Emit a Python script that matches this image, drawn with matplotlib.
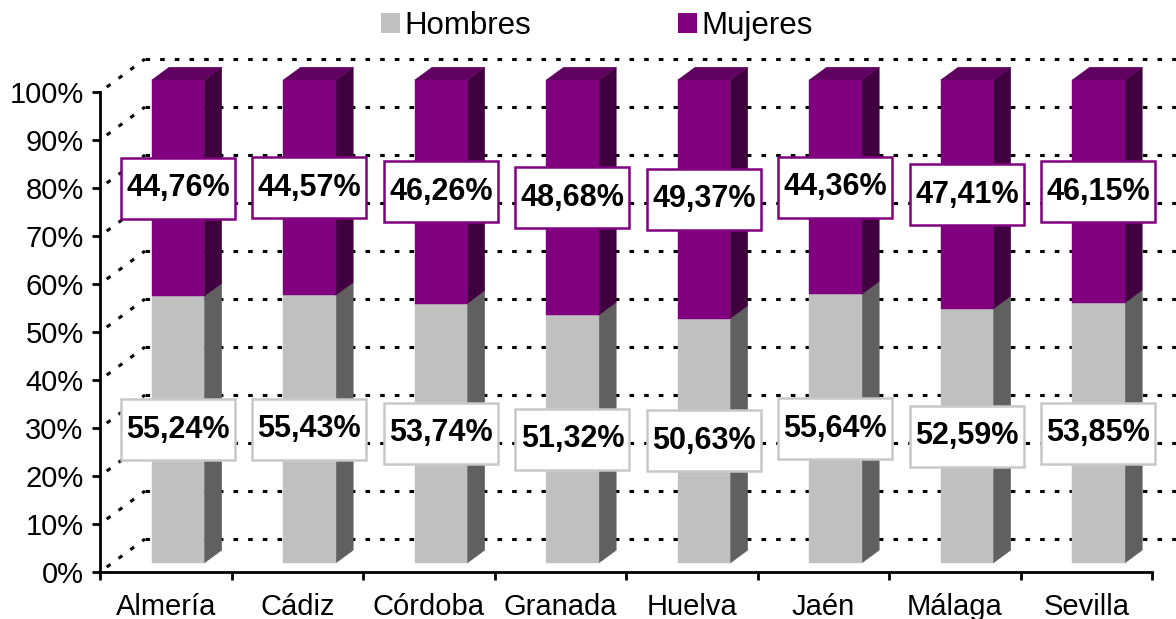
import matplotlib
matplotlib.use("Agg")
import matplotlib.pyplot as plt
from matplotlib.patches import Polygon, Rectangle, Patch

plt.rcParams['font.family'] = ['Liberation Sans', 'DejaVu Sans']

# ---- data ----
provincias = ["Almería", "Cádiz", "Córdoba", "Granada", "Huelva", "Jaén", "Málaga", "Sevilla"]
hombres = [55.24, 55.43, 53.74, 51.32, 50.63, 55.64, 52.59, 53.85]
mujeres = [44.76, 44.57, 46.26, 48.68, 49.37, 44.36, 47.41, 46.15]
series_names = ["Hombres", "Mujeres"]
y_ticks = list(range(0, 101, 10))

# ---- style ----
H_FRONT, H_SIDE, H_TOP = '#C0C0C0', '#606060', '#909090'
M_FRONT, M_SIDE, M_TOP = '#800080', '#400040', '#600060'
DX, DY = 0.342, 6.875          # depth offset (category units, percent units)
D0, D1 = 0.27, 0.66            # bar depth range
BAR_W = 0.40
BAR_SCALE = 483 / 480          # slight perspective scaling of the bars
W_PX, H_PX = 1176, 619

fig = plt.figure(figsize=(W_PX / 100, H_PX / 100), dpi=100)
ax = fig.add_axes([100 / W_PX, 47 / H_PX, 1052 / W_PX, 480 / H_PX])
ax.set_xlim(0, len(provincias))
ax.set_ylim(0, 100)


def P(x, y, d):
    return (x + d * DX, y + d * DY)


def PB(x, y, d):
    return P(x, y * BAR_SCALE, d)


grid_kw = dict(color='black', linewidth=2.2, linestyle=(0, (1.5, 3.3)),
               dash_capstyle='butt', clip_on=False, zorder=1)
# back wall horizontal gridlines and left wall diagonals
for v in y_ticks:
    xa, ya = P(0, v, 1)
    xb, yb = P(len(provincias) + 0.5, v, 1)
    ax.plot([xa, xb], [ya, yb], **grid_kw)
    xa, ya = P(0, v, 0.15)
    ax.plot([xa, P(0, v, 1)[0]], [ya, P(0, v, 1)[1]], **grid_kw)


def draw_segment(xc, y0, y1, front, side, top, draw_top, z):
    x0, x1 = xc - BAR_W / 2, xc + BAR_W / 2
    faces = []
    faces.append(([PB(x1, y0, D0), PB(x1, y0, D1), PB(x1, y1, D1), PB(x1, y1, D0)], side))
    if draw_top:
        faces.append(([PB(x0, y1, D0), PB(x1, y1, D0), PB(x1, y1, D1), PB(x0, y1, D1)], top))
    faces.append(([PB(x0, y0, D0), PB(x1, y0, D0), PB(x1, y1, D0), PB(x0, y1, D0)], front))
    for pts, c in faces:
        ax.add_patch(Polygon(pts, closed=True, facecolor=c, edgecolor=c,
                             linewidth=0.3, clip_on=False, zorder=z))


for i, (h, m) in enumerate(zip(hombres, mujeres)):
    xc = i + 0.5
    draw_segment(xc, 0, h, H_FRONT, H_SIDE, H_TOP, False, 3)
    draw_segment(xc, h, h + m, M_FRONT, M_SIDE, M_TOP, True, 3)

# data labels
BOX_W, BOX_H = 114 / 131.5, 61 / 4.8
for i, (h, m) in enumerate(zip(hombres, mujeres)):
    xc = i + 0.5
    for val, base, ec in ((h, 0, '#C8C8C8'), (m, h, '#800080')):
        cx, cy = PB(xc, base + val / 2, D0)
        ax.add_patch(Rectangle((cx - BOX_W / 2, cy - BOX_H / 2), BOX_W, BOX_H,
                               facecolor='white', edgecolor=ec, linewidth=1.8,
                               clip_on=False, zorder=5))
        ax.text(cx, cy, f"{val:.2f}%".replace('.', ','), ha='center', va='center',
                fontsize=22, fontweight='bold', color='black', zorder=6, clip_on=False)

# axes
for s in ('top', 'right'):
    ax.spines[s].set_visible(False)
for s in ('left', 'bottom'):
    ax.spines[s].set_linewidth(2.0)
    ax.spines[s].set_zorder(4)
ax.set_yticks(y_ticks)
ax.set_yticklabels([f"{v}%" for v in y_ticks], fontsize=21)
ax.set_xticks(range(len(provincias) + 1))
ax.set_xticklabels([])
ax.set_xticks([i + 0.5 for i in range(len(provincias))], minor=True)
ax.set_xticklabels(provincias, minor=True, fontsize=21)
ax.tick_params(axis='both', which='major', direction='out', length=5.8, width=2.0, pad=6)
ax.tick_params(axis='x', which='minor', length=0, pad=15)
ax.patch.set_visible(False)

# legend
handles = [Patch(facecolor=H_FRONT, edgecolor='none'), Patch(facecolor=M_FRONT, edgecolor='none')]
fig.legend(handles, series_names, loc='center', bbox_to_anchor=(597 / W_PX, 1 - 26 / H_PX),
           ncol=2, frameon=False, fontsize=22.5, handlelength=0.61, handleheight=0.61,
           handletextpad=0.15, columnspacing=4.7, borderpad=0, borderaxespad=0)

fig.savefig("out.png", dpi=100)
